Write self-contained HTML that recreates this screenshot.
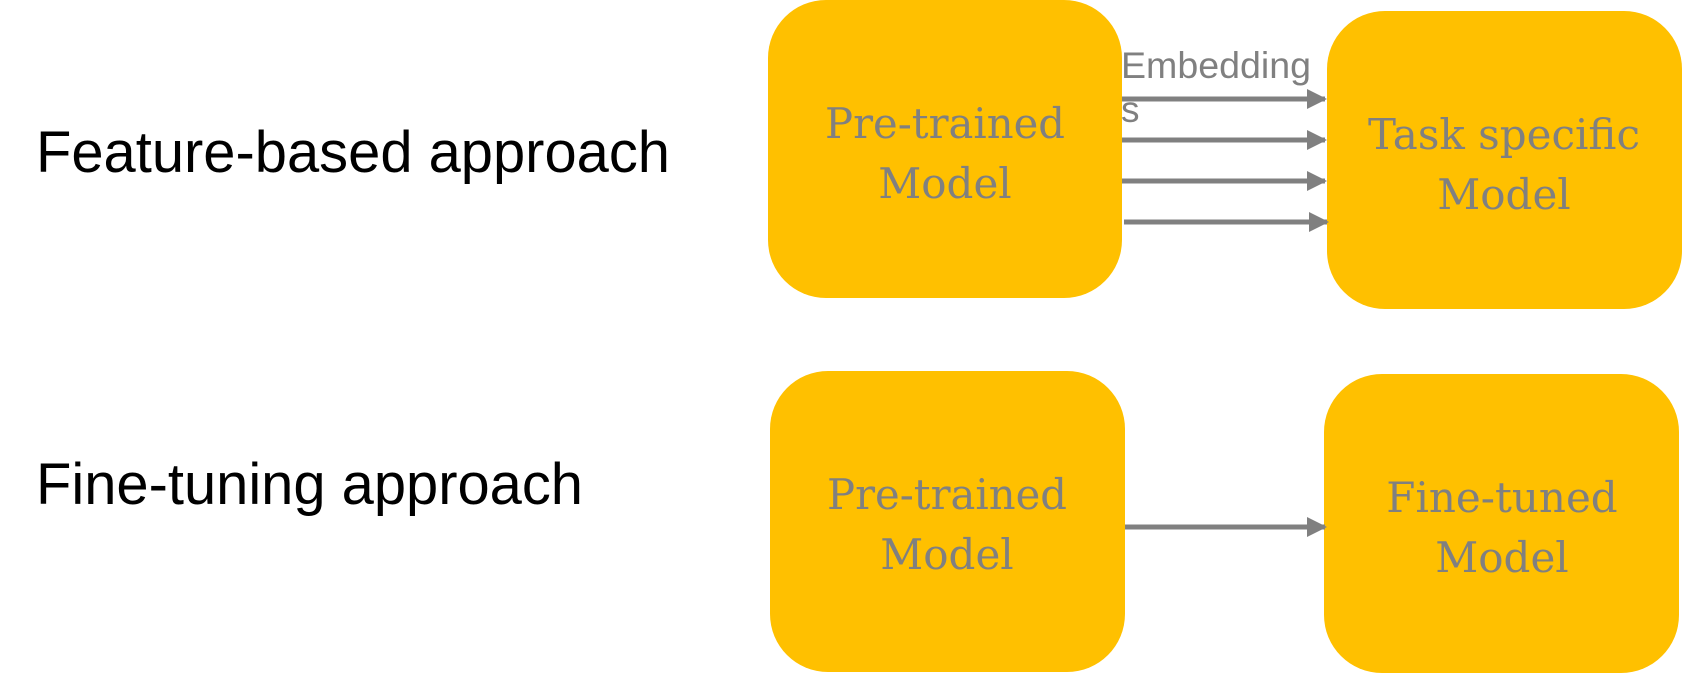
<!DOCTYPE html>
<html><head><meta charset="utf-8"><style>
html,body{margin:0;padding:0;background:#fff;width:1682px;height:674px;overflow:hidden}
</style></head><body>
<svg width="1682" height="674" viewBox="0 0 1682 674" xmlns="http://www.w3.org/2000/svg">
<defs><marker id="a" markerWidth="4" markerHeight="4" refX="3.6" refY="2" orient="auto" markerUnits="strokeWidth"><path d="M0,0 L4,2 L0,4 Z" fill="#808080"/></marker></defs>
<g fill="#FFC000">
<rect x="768" y="0" width="354" height="298" rx="58"/>
<rect x="1327" y="11" width="355" height="298" rx="58"/>
<rect x="770" y="371" width="355" height="301" rx="58"/>
<rect x="1324" y="374" width="355" height="299" rx="58"/>
</g>
<g stroke="#808080" stroke-width="5" marker-end="url(#a)">
<line x1="1122" y1="99" x2="1325" y2="99"/>
<line x1="1122" y1="140" x2="1325" y2="140"/>
<line x1="1122" y1="181" x2="1325" y2="181"/>
<line x1="1124" y1="222" x2="1327" y2="222"/>
<line x1="1125" y1="527" x2="1325" y2="527"/>
</g>
<g font-family="Liberation Sans, sans-serif" fill="#808080" font-size="37">
<text x="1121" y="78" textLength="190" lengthAdjust="spacingAndGlyphs">Embedding</text>
<text x="1121" y="122">s</text>
</g>
<g font-family="Liberation Sans, sans-serif" fill="#000" font-size="58">
<text x="36" y="172" textLength="634" lengthAdjust="spacingAndGlyphs">Feature-based approach</text>
<text x="36" y="504" textLength="547" lengthAdjust="spacingAndGlyphs">Fine-tuning approach</text>
</g>
<g font-family="DejaVu Serif, Liberation Serif, serif" fill="#808080" font-size="42" text-anchor="middle">
<text x="945" y="138" textLength="240" lengthAdjust="spacingAndGlyphs">Pre-trained</text>
<text x="945" y="198">Model</text>
<text x="1504" y="149">Task specific</text>
<text x="1504" y="209">Model</text>
<text x="947" y="509" textLength="240" lengthAdjust="spacingAndGlyphs">Pre-trained</text>
<text x="947" y="569">Model</text>
<text x="1502" y="512">Fine-tuned</text>
<text x="1502" y="572">Model</text>
</g>
</svg>
</body></html>
